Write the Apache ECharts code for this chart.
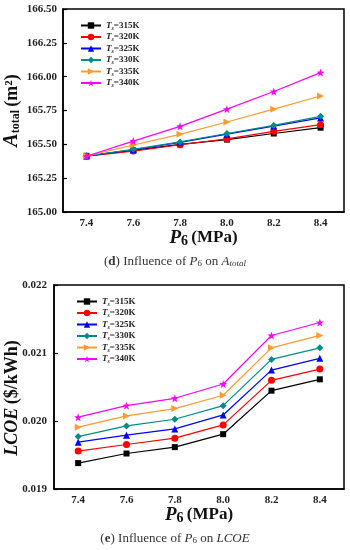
<!DOCTYPE html>
<html><head><meta charset="utf-8">
<script src="https://cdn.jsdelivr.net/npm/echarts@6/dist/echarts.min.js"></script>
<style>html,body{margin:0;padding:0;background:#fff}#c{width:350px;height:550px}</style>
</head><body><div id="c"></div>
<script>
const pressures = ['7.4','7.6','7.8','8.0','8.2','8.4'];
const seriesNames = ['315K','320K','325K','330K','335K','340K'];
const aTicks = [165.00,165.25,165.50,165.75,166.00,166.25,166.50];
const lTicks = [0.019,0.020,0.021,0.022];

const area315 = [165.415,165.455,165.500,165.535,165.580,165.623];
const area320 = [165.412,165.450,165.497,165.540,165.596,165.645];
const area325 = [165.413,165.460,165.515,165.575,165.635,165.695];
const area330 = [165.414,165.463,165.518,165.580,165.640,165.707];
const area335 = [165.413,165.495,165.574,165.665,165.760,165.857];
const area340 = [165.412,165.524,165.633,165.760,165.890,166.030];

const lcoe315 = [0.019381,0.019522,0.019616,0.019806,0.020446,0.020613];
const lcoe320 = [0.019557,0.019654,0.019748,0.019943,0.020598,0.020764];
const lcoe325 = [0.019689,0.019792,0.019884,0.020089,0.020749,0.020921];
const lcoe330 = [0.019771,0.019928,0.020026,0.020226,0.020906,0.021076];
const lcoe335 = [0.019909,0.020075,0.020182,0.020378,0.021076,0.021258];
const lcoe340 = [0.020056,0.020226,0.020334,0.020544,0.021258,0.021449];

const areaData = [area315,area320,area325,area330,area335,area340];
const lcoeData = [lcoe315,lcoe320,lcoe325,lcoe330,lcoe335,lcoe340];

const colors = ['#000000','#ff0000','#0000ff','#008b8b','#ff9a2e','#ff00ff'];
const star = 'path://M0,-10L2.35,-3.24L9.51,-3.09L3.8,1.24L5.88,8.09L0,4L-5.88,8.09L-3.8,1.24L-9.51,-3.09L-2.35,-3.24Z';
const symbols = ['rect','circle','triangle','diamond','triangle',star];
const rotates = [0,0,0,0,-90,0];
const sizes = [6,7,7,7,7,8];

const serif = '"Liberation Serif","Times New Roman",serif';

function mkSeries(dataSet, idx) {
  return dataSet.map((d, i) => ({
    name: seriesNames[i],
    type: 'line',
    xAxisIndex: idx, yAxisIndex: idx,
    data: d,
    symbol: symbols[i],
    symbolRotate: rotates[i],
    symbolSize: sizes[i],
    showAllSymbol: true,
    lineStyle: {color: colors[i], width: 1.2},
    itemStyle: {color: colors[i]},
    animation: false,
    z: 2 + i
  }));
}

const labelStyle = {fontFamily: serif, fontWeight: 'bold', fontSize: 11, color: '#222'};
const legendRich = {
  i: {fontFamily: serif, fontStyle: 'italic', fontWeight: 'bold', fontSize: 9, color: '#222'},
  s: {fontFamily: serif, fontStyle: 'italic', fontWeight: 'bold', fontSize: 6, color: '#222', verticalAlign: 'bottom', padding: [4,0,0,0]},
  n: {fontFamily: serif, fontWeight: 'bold', fontSize: 9, color: '#222'}
};
function mkLegend(left, top) {
  return {
    orient: 'vertical', left: left, top: top,
    itemWidth: 20, itemHeight: 8, itemGap: 0.5, itemStyle: {},
    data: seriesNames,
    formatter: n => '{i|T}{s|s}{n|=' + n + '}',
    textStyle: {rich: legendRich, lineHeight: 11},
    selectedMode: false
  };
}

function xAxisCfg(idx, nameGap) {
  return {
    type: 'category', gridIndex: idx, data: pressures, boundaryGap: true,
    axisLine: {lineStyle: {color: '#000', width: 1.5}},
    axisTick: {inside: true, length: 4, alignWithLabel: true, lineStyle: {color: '#000', width: 1.2}},
    axisLabel: Object.assign({margin: 6}, labelStyle),
    splitLine: {show: false},
    name: '{p|P}{six|6} {u|(MPa)}', nameLocation: 'middle', nameGap: nameGap,
    nameMoveOverlap: false,
    nameTextStyle: {rich: {
      p: {fontFamily: serif, fontStyle: 'italic', fontWeight: 'bold', fontSize: 19, color: '#111'},
      six: {fontFamily: serif, fontWeight: 'bold', fontSize: 14, color: '#111', verticalAlign: 'bottom', padding: [6,0,0,0]},
      u: {fontFamily: serif, fontWeight: 'bold', fontSize: 17, color: '#111'}
    }}
  };
}

const option = {
  backgroundColor: '#fff',
  animation: false,
  grid: [
    {left: 63, top: 9, right: 6, height: 203, show: true, borderColor: '#000', borderWidth: 1.5, backgroundColor: 'transparent', containLabel: false, outerBoundsMode: 'none'},
    {left: 54, top: 285, right: 6, height: 204, show: true, borderColor: '#000', borderWidth: 1.5, backgroundColor: 'transparent', containLabel: false, outerBoundsMode: 'none'}
  ],
  legend: [mkLegend(75, 15), mkLegend(71, 291)],
  xAxis: [xAxisCfg(0, 16), xAxisCfg(1, 16)],
  yAxis: [
    {
      type: 'value', gridIndex: 0, min: aTicks[0], max: aTicks[aTicks.length-1], interval: 0.25,
      axisLine: {show: true, lineStyle: {color: '#000', width: 1.5}},
      axisTick: {show: true, inside: true, length: 4, lineStyle: {color: '#000', width: 1.2}},
      axisLabel: Object.assign({margin: 6, formatter: v => v.toFixed(2)}, labelStyle),
      splitLine: {show: false},
      name: '{a|A}{t|total} {u|(m²)}', nameLocation: 'middle', nameGap: 41, nameRotate: 90,
      nameMoveOverlap: false,
      nameTextStyle: {rich: {
        a: {fontFamily: serif, fontStyle: 'italic', fontWeight: 'bold', fontSize: 20, color: '#111'},
        t: {fontFamily: serif, fontWeight: 'bold', fontSize: 12, color: '#111', verticalAlign: 'bottom', padding: [5,0,0,0]},
        u: {fontFamily: serif, fontWeight: 'bold', fontSize: 18, color: '#111'}
      }}
    },
    {
      type: 'value', gridIndex: 1, min: lTicks[0], max: lTicks[lTicks.length-1], interval: 0.001,
      axisLine: {show: true, lineStyle: {color: '#000', width: 1.5}},
      axisTick: {show: true, inside: true, length: 4, lineStyle: {color: '#000', width: 1.2}},
      axisLabel: Object.assign({margin: 7, formatter: v => v.toFixed(3)}, labelStyle),
      splitLine: {show: false},
      name: '{l|LCOE} {u|($/kWh)}', nameLocation: 'middle', nameGap: 33, nameRotate: 90,
      nameMoveOverlap: false,
      nameTextStyle: {padding: [0, 22, 0, 0], rich: {
        l: {fontFamily: serif, fontStyle: 'italic', fontWeight: 'bold', fontSize: 18, color: '#111'},
        u: {fontFamily: serif, fontWeight: 'bold', fontSize: 18, color: '#111'}
      }}
    }
  ],
  graphic: [
    {type: 'text', left: 'center', top: 255, style: {
      text: '({b|d}) Influence of {i|P}{s|6} on {i|A}{s|total}',
      font: '13px ' + serif, fill: '#333',
      rich: {
        b: {fontFamily: serif, fontWeight: 'bold', fontSize: 13, fill: '#333'},
        i: {fontFamily: serif, fontStyle: 'italic', fontSize: 13, fill: '#333'},
        s: {fontFamily: serif, fontStyle: 'italic', fontSize: 9, fill: '#333', verticalAlign: 'bottom', padding: [4,0,0,0]}
      }
    }},
    {type: 'text', left: 'center', top: 532, style: {
      text: '({b|e}) Influence of {i|P}{s|6} on {i|LCOE}',
      font: '13px ' + serif, fill: '#333',
      rich: {
        b: {fontFamily: serif, fontWeight: 'bold', fontSize: 13, fill: '#333'},
        i: {fontFamily: serif, fontStyle: 'italic', fontSize: 13, fill: '#333'},
        s: {fontFamily: serif, fontSize: 9, fill: '#333', verticalAlign: 'bottom', padding: [4,0,0,0]}
      }
    }}
  ],
  series: mkSeries(areaData, 0).concat(mkSeries(lcoeData, 1))
};

const chart = echarts.init(document.getElementById('c'), null, {renderer: 'canvas'});
chart.setOption(option);
</script>
</body></html>
